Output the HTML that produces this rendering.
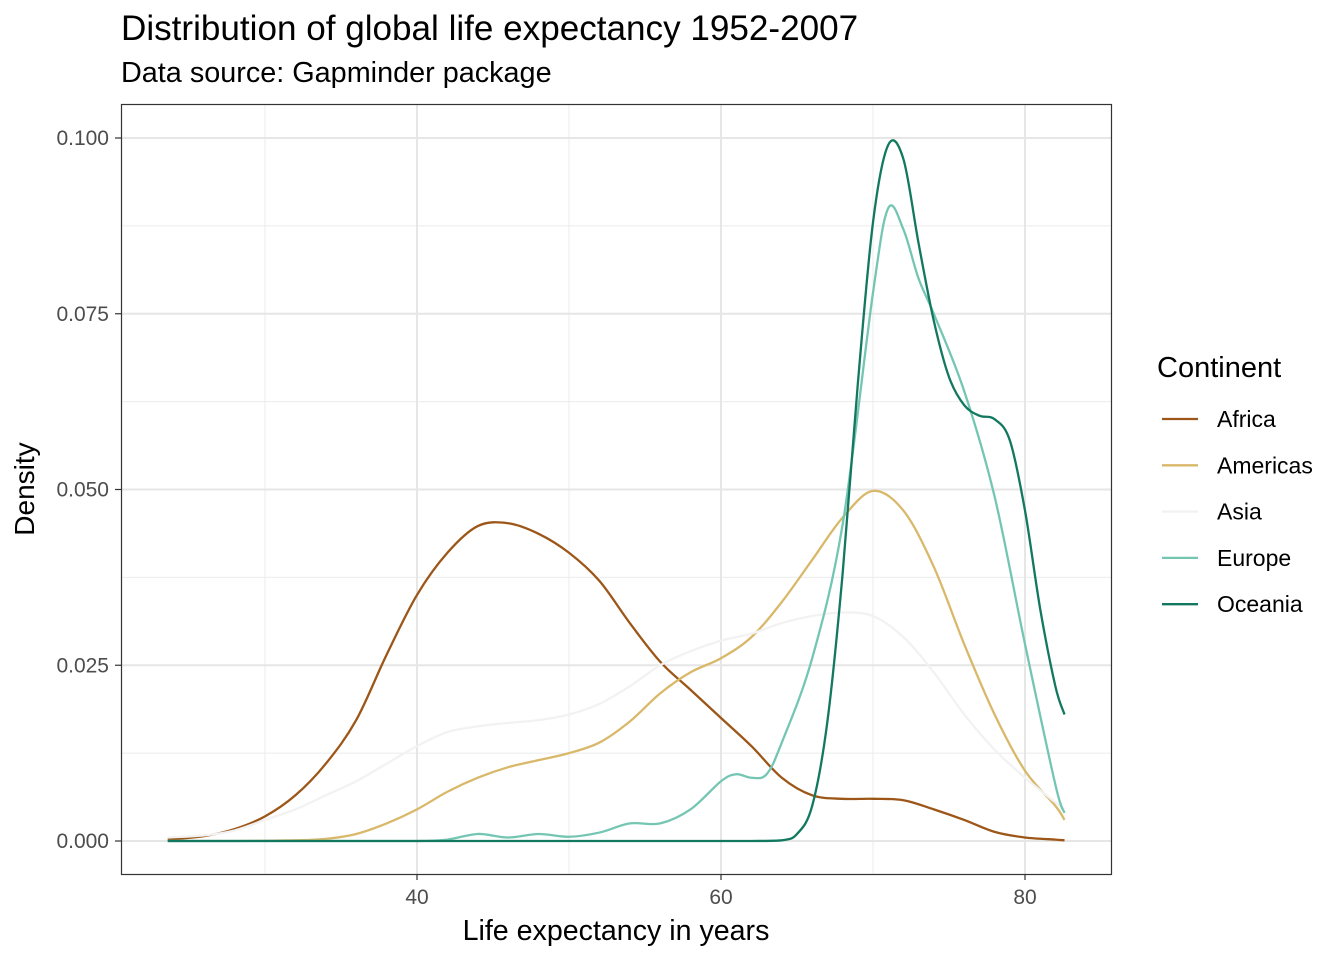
<!DOCTYPE html>
<html><head><meta charset="utf-8"><style>
body{margin:0;background:#fff;}
svg text{font-family:"Liberation Sans",Arial,sans-serif;}
</style></head><body>
<svg id="chart" width="1344" height="960" xmlns="http://www.w3.org/2000/svg">
<rect width="1344" height="960" fill="#fff"/>
<text x="121" y="40" font-size="35.1" fill="#000">Distribution of global life expectancy 1952-2007</text>
<text x="121" y="82" font-size="28.8" fill="#000">Data source: Gapminder package</text>
<g id="grid"></g>
<g id="series"></g>
<rect x="121.5" y="104.5" width="990" height="770" fill="none" stroke="#333" stroke-width="1.2"/>
<g id="axes"></g>
<text x="616" y="940" font-size="28.6" text-anchor="middle" fill="#000">Life expectancy in years</text>
<text transform="translate(34,489) rotate(-90)" font-size="28" text-anchor="middle" fill="#000">Density</text>
<g id="legend">
<text x="1157" y="377" font-size="29" fill="#000">Continent</text>
</g>
</svg>
<script>
const continents=["Africa","Americas","Asia","Europe","Oceania"];
const colors=["#9c5618","#d9b86a","#f2f2f2","#74c6b3","#12785f"];
const xTicks=[40,60,80];
const xMinor=[30,50,70];
const yTicks=[0,0.025,0.05,0.075,0.1];
const yTickLabels=["0.000","0.025","0.050","0.075","0.100"];
const yMinor=[0.0125,0.0375,0.0625,0.0875];
const africaX=[23.6,26,28,30,32,34,36,38,40,42,44,46,48,50,52,54,56,58,60,62,64,66,68,70,72,74,76,78,80,82,82.6];
const africaY=[0.0002,0.0007,0.0017,0.0035,0.0065,0.011,0.0172,0.0265,0.035,0.041,0.0448,0.0452,0.0437,0.041,0.037,0.031,0.0255,0.0215,0.0175,0.0135,0.009,0.0065,0.006,0.006,0.0058,0.0045,0.003,0.0013,0.0005,0.0002,0.0001];
const americasX=[23.6,28,32,34,36,38,40,42,44,46,48,50,52,54,56,58,60,62,64,66,68,70,72,74,76,78,80,82,82.6];
const americasY=[0,0,0.0001,0.0003,0.001,0.0025,0.0045,0.007,0.009,0.0105,0.0115,0.0125,0.014,0.017,0.021,0.024,0.026,0.029,0.034,0.04,0.046,0.0498,0.047,0.039,0.028,0.018,0.01,0.005,0.003];
const asiaX=[23.6,26,28,30,32,34,36,38,40,42,44,46,48,50,52,54,56,58,60,62,64,66,68,70,72,74,76,78,80,82,82.6];
const asiaY=[0.0005,0.0008,0.0015,0.003,0.0045,0.0065,0.0085,0.011,0.0135,0.0155,0.0163,0.0168,0.0172,0.018,0.0195,0.022,0.025,0.027,0.0285,0.0295,0.031,0.032,0.0325,0.032,0.029,0.024,0.018,0.013,0.009,0.0055,0.0045];
const europeX=[23.6,30,36,40,42,44,46,48,50,52,54,56,58,60,61,62,63,64,66,68,70,71,72,73,74,76,78,80,82,82.6];
const europeY=[0,0,0,0,0.0002,0.001,0.0005,0.001,0.0006,0.0012,0.0025,0.0025,0.0045,0.0085,0.0095,0.009,0.0095,0.014,0.026,0.045,0.078,0.09,0.087,0.08,0.075,0.064,0.049,0.028,0.008,0.004];
const oceaniaX=[23.6,30,40,50,58,62,64,65,66,67,68,69,70,71,72,73,74,75,76,77,78,79,80,81,82,82.6];
const oceaniaY=[0,0,0,0,0,0,0.0001,0.001,0.005,0.017,0.038,0.065,0.088,0.099,0.097,0.085,0.074,0.066,0.062,0.0605,0.06,0.057,0.047,0.033,0.022,0.018];
const seriesX=[africaX,americasX,asiaX,europeX,oceaniaX];
const seriesY=[africaY,americasY,asiaY,europeY,oceaniaY];

const NS="http://www.w3.org/2000/svg";
const xs=v=>417+(v-40)*15.2;
const ys=v=>841-v*7030;
function mk(tag,attrs,parent){const e=document.createElementNS(NS,tag);for(const k in attrs)e.setAttribute(k,attrs[k]);parent.appendChild(e);return e;}
const grid=document.getElementById('grid'),axes=document.getElementById('axes'),ser=document.getElementById('series'),leg=document.getElementById('legend');
xMinor.forEach(v=>{const l=mk('line',{x1:xs(v),x2:xs(v),y1:104,y2:874,stroke:'#ebebeb','stroke-width':1},grid);

});
yMinor.forEach(v=>{const l=mk('line',{x1:121,x2:1111,y1:ys(v),y2:ys(v),stroke:'#ebebeb','stroke-width':1},grid);

});
xTicks.forEach(v=>{const l=mk('line',{x1:xs(v),x2:xs(v),y1:104,y2:874,stroke:'#e6e6e6','stroke-width':2},grid);


const t=mk('line',{x1:xs(v),x2:xs(v),y1:874,y2:880,stroke:'#333','stroke-width':1.2},axes);


const tx=mk('text',{x:xs(v),y:904,'font-size':21,'text-anchor':'middle',fill:'#4d4d4d'},axes);tx.textContent=v;

});
yTicks.forEach((v,i)=>{const l=mk('line',{x1:121,x2:1111,y1:ys(v),y2:ys(v),stroke:'#e6e6e6','stroke-width':2},grid);


const t=mk('line',{x1:115,x2:121,y1:ys(v),y2:ys(v),stroke:'#333','stroke-width':1.2},axes);


const tx=mk('text',{x:109,y:ys(v)+7,'font-size':21,'text-anchor':'end',fill:'#4d4d4d'},axes);tx.textContent=yTickLabels[i];

});
function smooth(px,py){let d=`M${px[0]},${py[0]}`;for(let i=0;i<px.length-1;i++){const p0=i?i-1:i,p3=i+2<px.length?i+2:i+1;
const c1x=px[i]+(px[i+1]-px[p0])/6,c1y=py[i]+(py[i+1]-py[p0])/6,c2x=px[i+1]-(px[p3]-px[i])/6,c2y=py[i+1]-(py[p3]-py[i])/6;
d+=` C${c1x},${Math.min(841,c1y)} ${c2x},${Math.min(841,c2y)} ${px[i+1]},${py[i+1]}`;}return d;}
continents.forEach((c,k)=>{const p=mk('path',{d:smooth(seriesX[k].map(xs),seriesY[k].map(ys)),fill:'none',stroke:colors[k],'stroke-width':2.3},ser);


const y=419+k*46.3;
const ll=mk('line',{x1:1162,x2:1198,y1:y,y2:y,stroke:colors[k],'stroke-width':2.3},leg);


const lt=mk('text',{x:1217,y:y+8,'font-size':23,fill:'#000'},leg);lt.textContent=c;

});
</script>
</body></html>
